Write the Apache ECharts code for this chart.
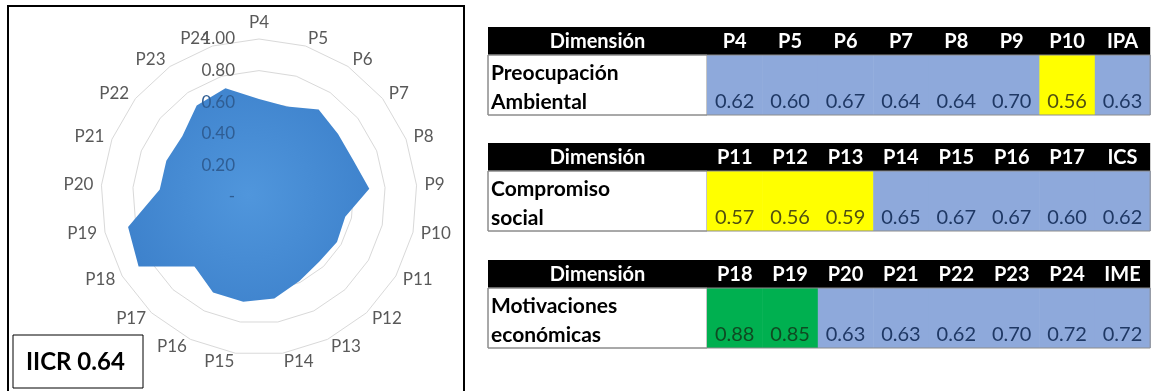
<!DOCTYPE html>
<html><head><meta charset="utf-8">
<script src="https://cdn.jsdelivr.net/npm/echarts@6/dist/echarts.min.js"></script>
<style>html,body{margin:0;padding:0;background:#fff}#c{width:1154px;height:391px}</style>
</head><body><div id="c"></div><script>
// ---------- data ----------
const questions = ['P4','P5','P6','P7','P8','P9','P10','P11','P12','P13','P14','P15','P16','P17','P18','P19','P20','P21','P22','P23','P24'];
const scores = [0.62,0.60,0.67,0.64,0.64,0.70,0.56,0.57,0.56,0.59,0.65,0.67,0.67,0.60,0.88,0.85,0.63,0.63,0.62,0.70,0.72];
const radialTickLabels = ['-','0.20','0.40','0.60','0.80','1.00'];
const overallLabel = 'IICR';
const overallValue = 0.64;

const headerFirst = 'Dimensión';
const dim1Name = ['Preocupación','Ambiental'];
const dim1Cols = ['P4','P5','P6','P7','P8','P9','P10','IPA'];
const dim1Vals = [0.62,0.60,0.67,0.64,0.64,0.70,0.56,0.63];
const dim1Level = ['mid','mid','mid','mid','mid','mid','low','mid'];

const dim2Name = ['Compromiso','social'];
const dim2Cols = ['P11','P12','P13','P14','P15','P16','P17','ICS'];
const dim2Vals = [0.57,0.56,0.59,0.65,0.67,0.67,0.60,0.62];
const dim2Level = ['low','low','low','mid','mid','mid','mid','mid'];

const dim3Name = ['Motivaciones','económicas'];
const dim3Cols = ['P18','P19','P20','P21','P22','P23','P24','IME'];
const dim3Vals = [0.88,0.85,0.63,0.63,0.62,0.70,0.72,0.72];
const dim3Level = ['high','high','mid','mid','mid','mid','mid','mid'];

// ---------- styles / layout ----------
const FONT = 'Lato, "Open Sans", sans-serif';
const levelFill = {mid:'#8EA9DB', low:'#FFFF00', high:'#00B050'};
const levelText = {mid:'#1F3864', low:'#4f4f12', high:'#0f4a22'};
const T = {x0:488, labelW:219, colW:55.4, headH:28, rowH:60, tops:[27,143,260]};

// radar order: ECharts goes counter-clockwise, Excel goes clockwise
const order = [0].concat(questions.map((q,i)=>i).slice(1).reverse());
const indicators = order.map(i => ({name: questions[i], min: 0, max: 1}));
const labelIndicators = order.map((i,k) => ({
  name: questions[i], min: 0, max: 1,
  axisLabel: {show: k === 0}
}));

function tableGraphic(top, cols, vals, levels, nameLines){
  const els = [];
  const vx = T.x0 + T.labelW;
  const totalW = T.labelW + T.colW * cols.length;
  // header
  els.push({type:'rect', shape:{x:T.x0, y:top, width:totalW, height:T.headH}, style:{fill:'#000'}});
  els.push({type:'text', x:T.x0 + T.labelW/2, y:top + T.headH/2 + 1,
    style:{text:headerFirst, fill:'#fff', font:'bold 20px ' + FONT, align:'center', verticalAlign:'middle'}});
  cols.forEach((c,j)=>{
    els.push({type:'text', x:vx + T.colW*(j+0.5), y:top + T.headH/2 + 1,
      style:{text:c, fill:'#fff', font:'bold 20px ' + FONT, align:'center', verticalAlign:'middle'}});
  });
  const ry = top + T.headH;
  // label cell
  els.push({type:'rect', shape:{x:T.x0, y:ry, width:T.labelW, height:T.rowH}, style:{fill:'#fff', stroke:'#8c8c8c', lineWidth:1}});
  els.push({type:'text', x:T.x0 + 3, y:ry + 18, style:{text:nameLines[0], fill:'#000', font:'bold 21px ' + FONT, align:'left', verticalAlign:'middle'}});
  els.push({type:'text', x:T.x0 + 3, y:ry + 47, style:{text:nameLines[1], fill:'#000', font:'bold 21px ' + FONT, align:'left', verticalAlign:'middle'}});
  vals.forEach((v,j)=>{
    els.push({type:'rect', shape:{x:vx + T.colW*j, y:ry, width:T.colW + 0.5, height:T.rowH}, style:{fill:levelFill[levels[j]]}});
  });
  vals.forEach((v,j)=>{
    els.push({type:'text', x:vx + T.colW*(j+0.5), y:ry + 47,
      style:{text:v.toFixed(2), fill:levelText[levels[j]], font:'20px ' + FONT, align:'center', verticalAlign:'middle'}});
  });
  els.push({type:'rect', shape:{x:T.x0, y:ry, width:totalW, height:T.rowH}, style:{fill:'none', stroke:'#8c8c8c', lineWidth:1}});
  return els;
}

const graphics = [
  {type:'rect', z:-1, shape:{x:8, y:6, width:456, height:400}, style:{fill:'none', stroke:'#000', lineWidth:2}},
  {type:'rect', shape:{x:13, y:335, width:130, height:53}, style:{fill:'#fff', stroke:'#000', lineWidth:1}},
  {type:'text', x:26, y:362, style:{text: overallLabel + ' ' + overallValue.toFixed(2), fill:'#000', font:'bold 24px ' + FONT, align:'left', verticalAlign:'middle'}}
].concat(
  tableGraphic(T.tops[0], dim1Cols, dim1Vals, dim1Level, dim1Name),
  tableGraphic(T.tops[1], dim2Cols, dim2Vals, dim2Level, dim2Name),
  tableGraphic(T.tops[2], dim3Cols, dim3Vals, dim3Level, dim3Name)
);

const chart = echarts.init(document.getElementById('c'), null, {renderer:'canvas'});
chart.setOption({
  backgroundColor:'#fff',
  animation:false,
  radar:[
    {
      z:0, center:[259,197], radius:158, startAngle:90, shape:'polygon', splitNumber:5,
      indicator: indicators,
      axisName:{show:true, color:'#595959', fontSize:17, fontFamily:FONT},
      axisNameGap:8,
      axisLine:{show:false}, axisTick:{show:false}, axisLabel:{show:false},
      splitArea:{show:false},
      splitLine:{show:true, lineStyle:{color:'#d9d9d9', width:1}}
    },
    {
      z:5, center:[259,197], radius:158, startAngle:90, shape:'polygon', splitNumber:5,
      indicator: labelIndicators,
      axisName:{show:false},
      axisLine:{show:false}, axisTick:{show:false},
      axisLabel:{show:false, margin:24, color:'#595959', fontSize:17, fontFamily:FONT,
        formatter:(v,idx)=> idx <= 3 ? '{in|' + radialTickLabels[idx] + '}' : radialTickLabels[idx],
        rich:{in:{color:'#2f5d93', fontSize:17, fontFamily:FONT}}},
      splitArea:{show:false}, splitLine:{show:false}
    }
  ],
  series:[{
    type:'radar', radarIndex:0, z:2, symbol:'none',
    lineStyle:{width:0, opacity:0},
    areaStyle:{opacity:1, color:{type:'radial', x:0.5, y:0.5, r:0.6,
      colorStops:[{offset:0, color:'#5096dc'},{offset:1, color:'#3e82cc'}]}},
    data:[{value: order.map(i => scores[i])}]
  }],
  graphic: graphics
});
</script></body></html>
